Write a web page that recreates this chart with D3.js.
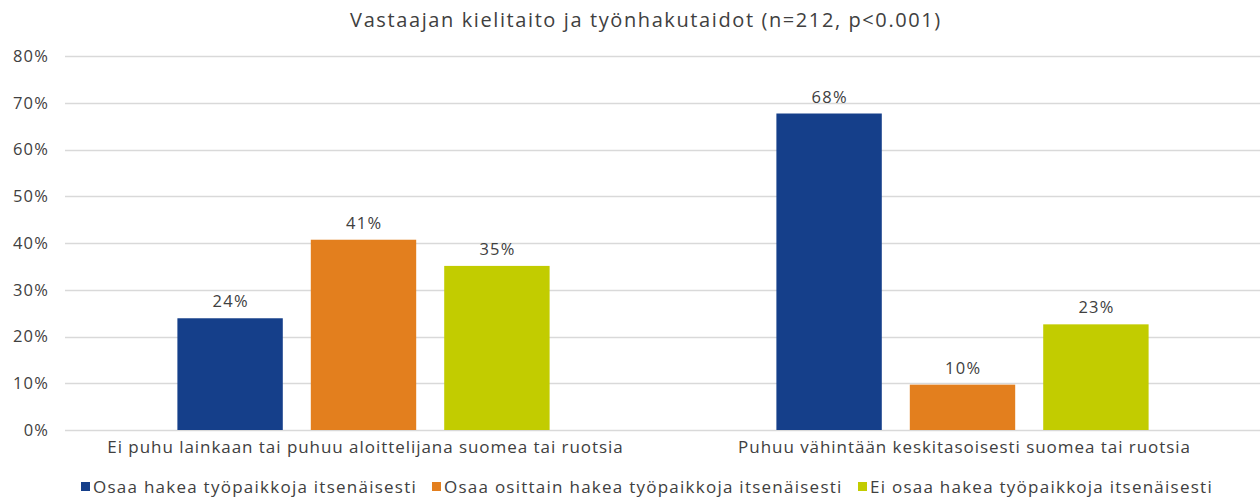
<!DOCTYPE html>
<html>
<head>
<meta charset="utf-8">
<script src="https://cdn.jsdelivr.net/npm/d3@7"></script>
<style>
  body { margin: 0; background: #fff; }
  svg text { font-family: "Open Sans", sans-serif; fill: #404040; }
</style>
</head>
<body>
<div id="chart"></div>
<script>
// data
var categories = ["Ei puhu lainkaan tai puhuu aloittelijana suomea tai ruotsia",
                  "Puhuu vähintään keskitasoisesti suomea tai ruotsia"];
var seriesNames = ["Osaa hakea työpaikkoja itsenäisesti",
                   "Osaa osittain hakea työpaikkoja itsenäisesti",
                   "Ei osaa hakea työpaikkoja itsenäisesti"];
var osaa = [23.9, 67.7];
var osittain = [40.7, 9.7];
var eiOsaa = [35.1, 22.6];
var yTicks = [0, 10, 20, 30, 40, 50, 60, 70, 80];
var colors = ["#153f8a", "#e37f1e", "#c2cc00"];

var width = 1260, height = 497;
var margin = {top: 56, right: 0, bottom: 67, left: 64};

var svg = d3.select("#chart").append("svg")
    .attr("width", width)
    .attr("height", height);

var seriesValues = [osaa, osittain, eiOsaa];
var data = categories.map(function(c, i) {
  return {cat: c, vals: seriesValues.map(function(s, j) { return {key: j, value: s[i]}; })};
});

var x0 = d3.scaleBand()
    .domain(categories)
    .range([margin.left, width - margin.right + 2])
    .padding(0);

var x1 = d3.scaleBand()
    .domain([0, 1, 2])
    .range([0, x0.bandwidth()])
    .paddingInner(0.21)
    .paddingOuter(0.85);

var y = d3.scaleLinear()
    .domain([0, 80])
    .range([height - margin.bottom, margin.top]);

// gridlines
svg.append("g")
  .selectAll("line")
  .data(yTicks)
  .enter().append("line")
    .attr("x1", margin.left + 1)
    .attr("x2", width)
    .attr("y1", function(d) { return Math.round(y(d)) + 0.5; })
    .attr("y2", function(d) { return Math.round(y(d)) + 0.5; })
    .attr("stroke", "#d9d9d9")
    .attr("stroke-width", 1.5);

// y axis labels
var yAxis = svg.append("g")
    .attr("transform", "translate(" + (margin.left - 13) + ",0)")
    .call(d3.axisLeft(y).tickValues(yTicks).tickSize(0).tickFormat(function(d) { return d + "%"; }));
yAxis.select(".domain").remove();
yAxis.selectAll("text")
    .attr("font-size", 16.5)
    .attr("font-family", "Open Sans, sans-serif")
    .attr("letter-spacing", 1.3)
    .attr("dx", 1.3)
    .style("fill", "#404040");

// bars
var groups = svg.append("g")
  .selectAll("g")
  .data(data)
  .enter().append("g")
    .attr("transform", function(d) { return "translate(" + x0(d.cat) + ",0)"; });

groups.selectAll("rect")
  .data(function(d) { return d.vals; })
  .enter().append("rect")
    .attr("x", function(d) { return x1(d.key); })
    .attr("y", function(d) { return y(d.value); })
    .attr("width", x1.bandwidth())
    .attr("height", function(d) { return y(0) - y(d.value); })
    .attr("fill", function(d) { return colors[d.key]; });

groups.selectAll("text.val")
  .data(function(d) { return d.vals; })
  .enter().append("text")
    .attr("class", "val")
    .attr("x", function(d) { return x1(d.key) + x1.bandwidth() / 2 + 0.7; })
    .attr("y", function(d) { return y(d.value) - 11; })
    .attr("text-anchor", "middle")
    .attr("font-size", 16.5)
    .attr("letter-spacing", 1.3)
    .text(function(d) { return Math.round(d.value) + "%"; });

// category labels
svg.append("g")
  .selectAll("text")
  .data(categories)
  .enter().append("text")
    .attr("x", function(d) { return x0(d) + x0.bandwidth() / 2 + 2; })
    .attr("y", height - margin.bottom + 23)
    .attr("text-anchor", "middle")
    .attr("font-size", 17)
    .attr("letter-spacing", 0.95)
    .text(function(d) { return d; });

// title
svg.append("text")
    .attr("x", 646)
    .attr("y", 27)
    .attr("text-anchor", "middle")
    .attr("font-size", 20)
    .attr("font-weight", 500)
    .attr("letter-spacing", 1.6)
    .text("Vastaajan kielitaito ja työnhakutaidot (n=212, p<0.001)");

// legend
var legendX = [81, 432, 858];
var legend = svg.append("g")
  .selectAll("g")
  .data(seriesNames)
  .enter().append("g")
    .attr("transform", function(d, i) { return "translate(" + legendX[i] + "," + 487 + ")"; });
legend.append("rect")
    .attr("x", 0).attr("y", -5)
    .attr("width", 9).attr("height", 9)
    .attr("fill", function(d, i) { return colors[i]; });
legend.append("text")
    .attr("x", 12)
    .attr("y", 6)
    .attr("font-size", 17)
    .attr("letter-spacing", 1.25)
    .text(function(d) { return d; });
</script>
</body>
</html>
